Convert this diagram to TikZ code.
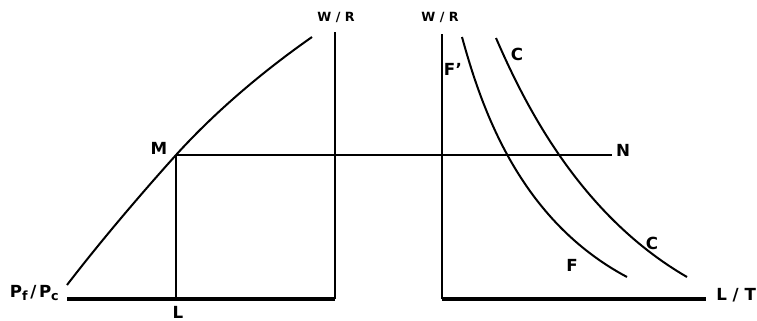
\documentclass[tikz,border=0pt]{standalone}
\usepackage{fontspec}
\setmainfont{DejaVu Sans}
\usetikzlibrary{positioning}
\newcommand{\sub}[1]{\raisebox{-2.5pt}{\fontsize{9.5}{9.5}\selectfont #1}}
\begin{document}
\begin{tikzpicture}[x=0.75pt,y=-0.75pt,
  axis/.style={line width=2.2pt},
  base/.style={line width=3.6pt},
  curve/.style={line width=1.5pt},
  guide/.style={line width=1.3pt},
  lbl/.style={font=\bfseries\fontsize{12.5}{12.5}\selectfont,inner sep=0pt},
  small/.style={font=\bfseries\fontsize{9.5}{9.5}\selectfont,inner sep=0pt},
]
\useasboundingbox (0,0) rectangle (757,321);
% left panel
\coordinate (origL) at (335,299);
\coordinate (topL) at (335,32);
\coordinate (endL) at (67,299);
\coordinate (M) at (176,155);
\coordinate (Lfoot) at (176,299);
\draw[base] (endL) -- (origL);
\draw[axis] (origL) -- (topL);
\draw[curve] (67,285) .. controls (100,242) and (140,195) .. (M)
  .. controls (215,112) and (262,72) .. (312,37);
\draw[guide] (M) -- (Lfoot);
% right panel
\coordinate (origR) at (442,299);
\coordinate (topR) at (442,34);
\coordinate (endR) at (706,299);
\coordinate (N) at (612,155);
\draw[base] (origR) -- (endR);
\draw[axis] (origR) -- (topR);
\draw[guide] (M) -- (N);
\draw[curve] (462,37) .. controls (482,110) and (520,220) .. (627,277);
\draw[curve] (496,38) .. controls (525,105) and (580,215) .. (687,277);
% labels
\node[lbl,anchor=east] (pfpc) at (59,293)
  {P\sub{f}\hspace{2pt}/\hspace{2pt}P\sub{c}};
\node[lbl] (lblL) at (178,312) {L};
\node[lbl] (lblM) at (159,148) {M};
\node[small] (wrL) at (336,17) {W / R};
\node[small] (wrR) at (440,17) {W / R};
\node[lbl] (lblFp) at (453,69) {F'};
\node[lbl] (lblCt) at (517,54) {C};
\node[lbl] (lblFb) at (572,265) {F};
\node[lbl] (lblCb) at (652,243) {C};
\node[lbl] (lblN) at (623,150) {N};
\node[lbl,anchor=west] (lt) at (716,295) {L / T};
\end{tikzpicture}
\end{document}
